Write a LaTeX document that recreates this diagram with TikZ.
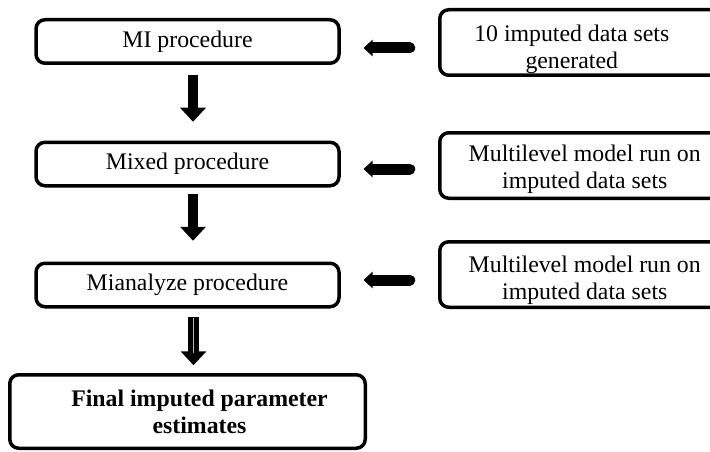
\documentclass[tikz,border=0pt]{standalone}
\usepackage{fontspec}
\setmainfont{Liberation Serif}
\usetikzlibrary{positioning,arrows.meta}

\begin{document}
\begin{tikzpicture}[x=1pt,y=-1pt,
                    basebox/.style={draw,line width=3.5pt,rounded corners=9pt,inner sep=0pt,align=center,font={\fontsize{23.8}{27}\selectfont}},
                    procbox/.style={basebox,minimum width=303pt,minimum height=43.5pt},
                    resultbox/.style={basebox,minimum width=355.5pt,minimum height=73.5pt},
                    sidebox/.style={basebox,minimum width=320pt,minimum height=65.5pt},
                    boxtext/.style={align=center,font={\fontsize{23.8}{26.5}\selectfont}},
                    downarrow/.style={line width=9.5pt,-{Triangle[width=25pt,length=14pt]}},
                    leftarrow/.style={line width=11pt,line cap=round,-{Triangle[width=16pt,length=9pt]}}]
    \useasboundingbox (0,0) rectangle (710,452);
    \clip (0,0) rectangle (710,452);
    % left column
    \node[procbox] (mi) at (187.5,41.5) {MI procedure};
    \node[procbox] (mixed) at (187.5,164) {Mixed procedure};
    \node[procbox] (mianalyze) at (187.5,285) {Mianalyze procedure};
    \node[resultbox,label={[boxtext,font={\fontsize{23.8}{27}\selectfont\bfseries},xshift=12pt]center:Final imputed parameter\\estimates}] (final) at (187.5,411.5) {};
    % right column
    \node[sidebox,label={[boxtext,xshift=-28pt,yshift=-7pt]center:10 imputed data sets\\generated}] (generated) at (599.75,42.5) {};
    \node[sidebox,label={[boxtext,xshift=-15pt,yshift=-4pt]center:Multilevel model run on\\imputed data sets}] (multilevel-a) at (599.75,165.5) {};
    \node[sidebox,label={[boxtext,xshift=-15pt,yshift=-6pt]center:Multilevel model run on\\imputed data sets}] (multilevel-b) at (599.75,274.5) {};
    % flow down
    \draw[downarrow,shorten <=9.75pt,shorten >=18.75pt] ([xshift=5.5pt]mi.south) -- ([xshift=5.5pt]mixed.north);
    \draw[downarrow,shorten <=6.75pt,shorten >=20.75pt] ([xshift=5.5pt]mixed.south) -- ([xshift=5.5pt]mianalyze.north);
    \draw[downarrow,line width=11pt,shorten <=8.75pt,shorten >=7.75pt] ([xshift=6pt]mianalyze.south) -- ([xshift=6pt]final.north);
    \draw[gray!55,line width=1.5pt,shorten <=9.5pt,shorten >=20pt] ([xshift=6pt]mianalyze.south) -- ([xshift=6pt]final.north);
    % inputs from the right
    \draw[leftarrow] ([shift={(-28.25,5.5)}]generated.west) -- ([shift={(22.75,5.5)}]generated.west -| mi.east);
    \draw[leftarrow] ([shift={(-28.25,3.5)}]multilevel-a.west) -- ([shift={(22.75,3.5)}]multilevel-a.west -| mixed.east);
    \draw[leftarrow] ([shift={(-28.25,5.5)}]multilevel-b.west) -- ([shift={(22.75,5.5)}]multilevel-b.west -| mianalyze.east);
\end{tikzpicture}
\end{document}
